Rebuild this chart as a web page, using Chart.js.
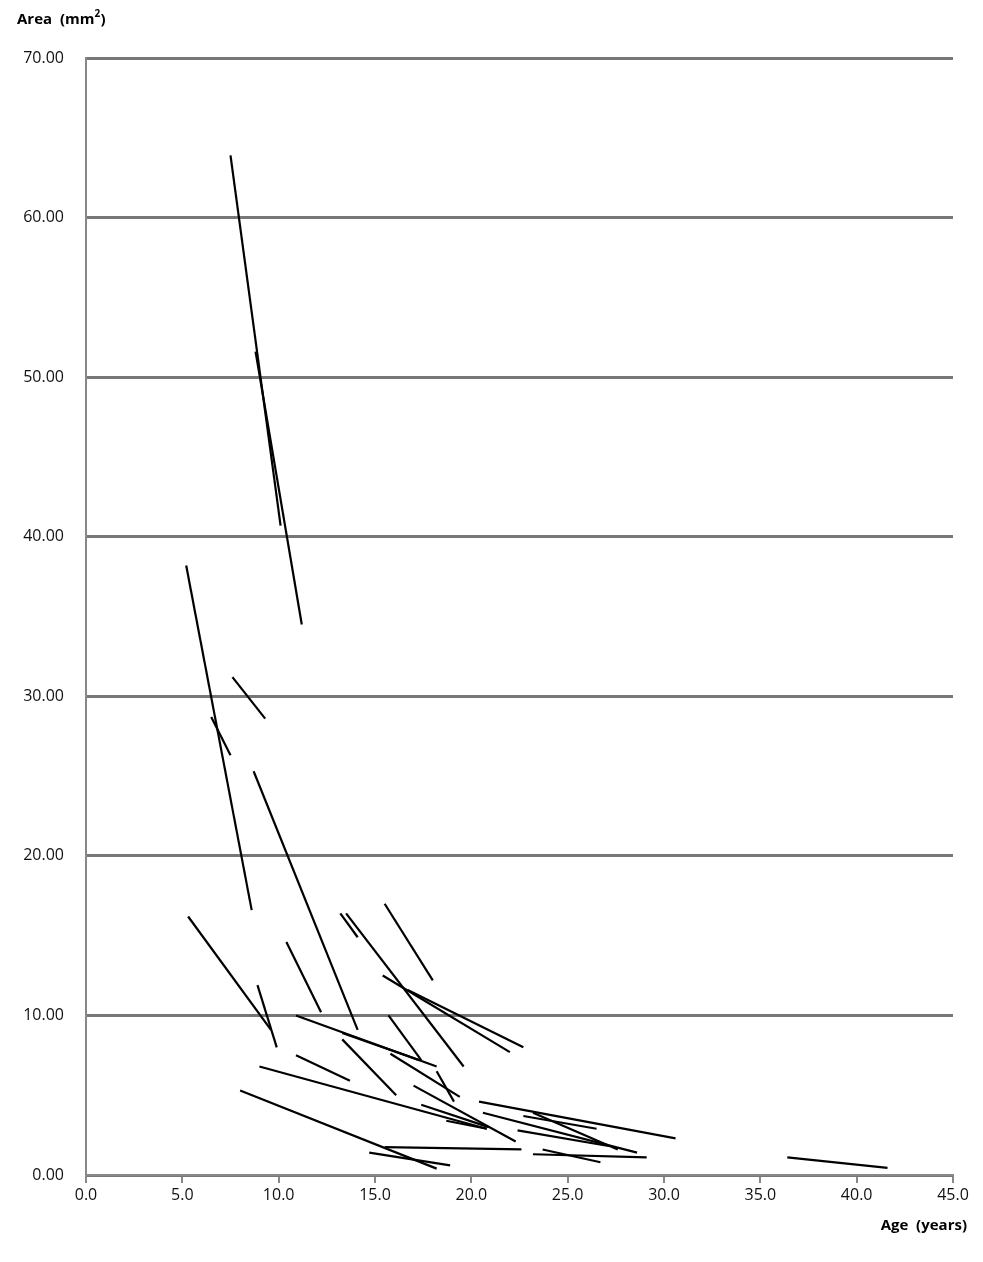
<!DOCTYPE html>
<html><head><meta charset="utf-8">
<script src="https://cdn.jsdelivr.net/npm/chart.js@4"></script>
<style>html,body{margin:0;background:#fff}#wrap{width:983px;height:1262px}</style>
</head><body><div id="wrap"><canvas id="c"></canvas></div>
<script>
var startAge  = [7.5, 8.8, 5.2, 7.6, 6.5, 8.7, 5.3, 8.9, 10.4, 13.2, 13.5, 15.5, 15.4, 16.7, 10.9, 13.3, 15.7, 13.3, 10.9, 9.0, 8.0, 15.5, 14.7, 15.8, 18.2, 17.0, 17.4, 18.7, 20.4, 20.6, 22.7, 23.2, 22.4, 23.2, 23.7, 36.4];
var endAge    = [10.1, 11.2, 8.6, 9.3, 7.5, 14.1, 9.6, 9.9, 12.2, 14.1, 19.6, 18.0, 22.0, 22.7, 18.2, 17.3, 17.4, 16.1, 13.7, 20.8, 18.2, 22.6, 18.9, 19.4, 19.1, 22.3, 20.9, 20.8, 30.6, 28.6, 26.5, 27.6, 27.2, 29.1, 26.7, 41.6];
var startArea = [63.9, 51.6, 38.2, 31.2, 28.7, 25.3, 16.2, 11.9, 14.6, 16.4, 16.4, 17.0, 12.5, 11.6, 10.0, 8.9, 10.0, 8.5, 7.5, 6.8, 5.3, 1.75, 1.4, 7.6, 6.5, 5.6, 4.4, 3.4, 4.6, 3.9, 3.7, 3.9, 2.8, 1.3, 1.6, 1.1];
var endArea   = [40.7, 34.5, 16.6, 28.6, 26.3, 9.1, 9.1, 8.0, 10.2, 14.9, 6.8, 12.2, 7.7, 8.0, 6.8, 7.2, 7.2, 5.0, 5.9, 2.9, 0.4, 1.6, 0.6, 4.9, 4.6, 2.1, 3.0, 2.9, 2.3, 1.4, 2.9, 1.6, 1.8, 1.1, 0.8, 0.45];
var xTicks = [0, 5, 10, 15, 20, 25, 30, 35, 40, 45];
var yTicks = [0, 10, 20, 30, 40, 50, 60, 70];

var datasets = startAge.map(function(a, i) {
	return {
		data: [{x: a, y: startArea[i]}, {x: endAge[i], y: endArea[i]}],
		borderColor: '#000', borderWidth: 2.2, pointRadius: 0, showLine: true, fill: false
	};
});

var titles = {
	id: 'titles',
	afterDraw: function(chart) {
		var ctx = chart.ctx;
		ctx.save();
		ctx.fillStyle = '#000';
		ctx.font = 'bold 15px "Open Sans"';
		ctx.textBaseline = 'alphabetic';
		ctx.textAlign = 'left';
		ctx.fillText('Area  (mm', 17, 24);
		var w = ctx.measureText('Area  (mm').width;
		ctx.font = 'bold 10px "Open Sans"';
		ctx.fillText('2', 17 + w, 17);
		ctx.font = 'bold 15px "Open Sans"';
		ctx.fillText(')', 17 + w + 6, 24);
		ctx.textAlign = 'right';
		ctx.fillText('Age  (years)', 967, 1230);
		ctx.restore();
	}
};

new Chart('c', {
	type: 'scatter',
	data: {datasets: datasets},
	plugins: [titles],
	options: {
		responsive: true, maintainAspectRatio: false, animation: false,
		layout: {padding: {left: 0, right: 30, top: 58, bottom: 0}},
		plugins: {legend: {display: false}, tooltip: {enabled: false}},
		scales: {
			x: {
				min: 0, max: 45,
				afterFit: function(s) { s.height = 87; },
				afterBuildTicks: function(s) { s.ticks = xTicks.map(function(v) { return {value: v}; }); },
				grid: {drawOnChartArea: false, drawTicks: true, tickLength: 8, color: '#888', lineWidth: 2},
				border: {color: '#888', width: 2},
				ticks: {color: '#111', font: {family: '"Open Sans"', size: 16}, padding: 3, maxRotation: 0,
					callback: function(v) { return Number(v).toFixed(1); }}
			},
			y: {
				min: 0, max: 70,
				afterFit: function(s) { s.width = 86; },
				afterBuildTicks: function(s) { s.ticks = yTicks.map(function(v) { return {value: v}; }); },
				grid: {color: '#777', lineWidth: 3, drawTicks: false},
				border: {color: '#888', width: 2},
				ticks: {color: '#111', font: {family: '"Open Sans"', size: 16}, padding: 22,
					callback: function(v) { return Number(v).toFixed(2); }}
			}
		}
	}
});
</script></body></html>
